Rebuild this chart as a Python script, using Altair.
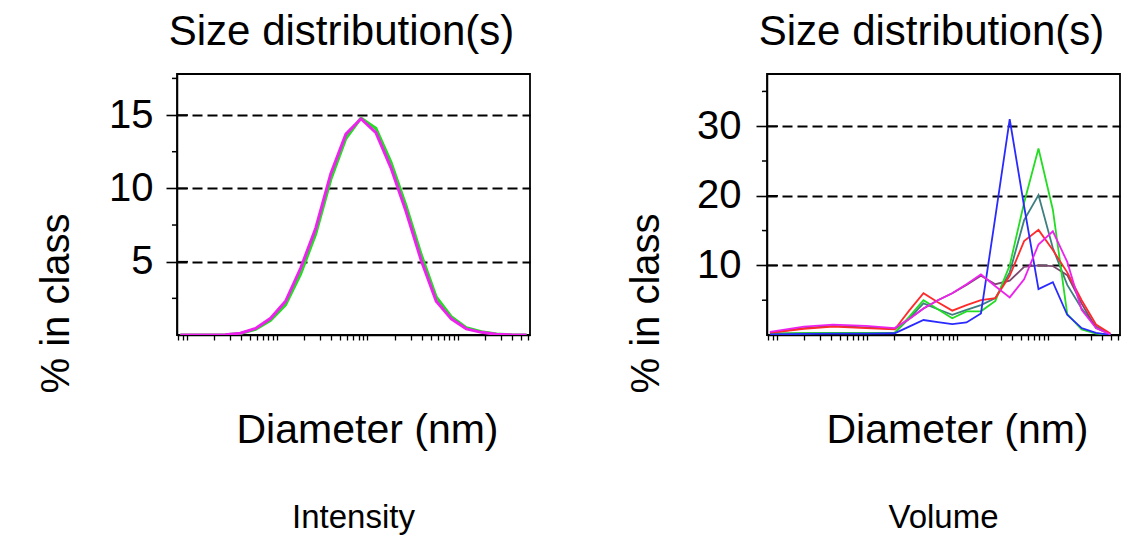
import altair as alt
import pandas as pd

FONT = "Liberation Sans"

# ---------------- Intensity panel ----------------
INT_D = [0.85, 1.24, 1.82, 2.68, 3.93, 5.77, 8.47, 12.4, 18.2, 26.8, 39.3, 57.7,
         84.7, 124, 182, 268, 393, 577, 847, 1242, 1824, 2677, 3929, 5768]
INT_GREEN = [0, 0, 0, 0.01, 0.1, 0.38, 1.0, 2.05, 4.15, 6.9, 10.6, 13.4,
             14.8, 14.1, 11.8, 8.8, 5.5, 2.6, 1.25, 0.5, 0.22, 0.07, 0.01, 0]
INT_MAGENTA = [0, 0, 0, 0.02, 0.12, 0.45, 1.14, 2.3, 4.55, 7.3, 11.0, 13.7,
               14.75, 13.8, 11.4, 8.4, 5.1, 2.3, 1.1, 0.42, 0.18, 0.05, 0.01, 0]

# ---------------- Volume panel ----------------
VOL_D = [0.84, 2.0, 4.2, 9.72, 20.2, 29.2, 42.1, 60.7, 87.6, 126, 182, 263,
         379, 547, 789, 1138, 1642, 2370, 3418, 4930]
VOL_TEAL = [0.2, 0.25, 0.3, 0.3, 0.3, 2.4, 4.55, 3.7, 2.9, 3.6, 4.3, 5.3,
            9.0, 16.5, 20.1, 12.5, 7.2, 3.8, 1.2, 0.1]
VOL_PURPLE = [0.35, 1.0, 1.3, 1.1, 0.9, 2.3, 3.8, 5.0, 6.0, 7.2, 8.5, 7.3,
              7.8, 9.8, 10.0, 9.9, 8.6, 4.5, 1.0, 0.1]
VOL_GREEN = [0.2, 0.25, 0.3, 0.3, 0.3, 2.6, 5.0, 3.7, 2.4, 3.4, 3.4, 4.9,
             10.0, 19.0, 26.8, 18.0, 3.0, 0.8, 0.2, 0]
VOL_RED = [0.3, 0.9, 1.2, 1.0, 0.8, 3.5, 6.0, 4.7, 3.5, 4.3, 5.0, 5.3,
           8.5, 13.5, 15.1, 12.2, 9.0, 5.0, 1.5, 0.2]
VOL_BLUE = [0.1, 0.15, 0.2, 0.2, 0.25, 1.2, 2.15, 1.85, 1.55, 1.8, 3.1, 17.0,
            31.0, 18.5, 6.6, 7.6, 2.9, 1.0, 0.3, 0]
VOL_MAGENTA = [0.45, 1.2, 1.5, 1.3, 1.0, 2.3, 3.8, 5.0, 6.0, 7.3, 8.7, 7.0,
               5.4, 8.0, 13.0, 14.9, 10.5, 3.6, 1.0, 0.1]

X_TICKS = [0.8, 0.9] + [m * 10 ** e for e in range(0, 4) for m in range(1, 10)
                        if m * 10 ** e <= 6000]

INT_MAJOR = [5, 10, 15]
INT_MINOR = [2.5, 7.5, 12.5, 17.5]
VOL_MAJOR = [10, 20, 30]
VOL_MINOR = [5, 15, 25, 35]

X_DOMAIN = [0.78, 6300]
W, H = 353, 261


def panel(d, series, ymax, major, minor, caption, line_w, label_pad):
    xscale = alt.Scale(type="log", domain=X_DOMAIN, nice=False)
    yscale = alt.Scale(domain=[0, ymax], nice=False, zero=True)
    xaxis = alt.Axis(values=X_TICKS, labels=False, tickSize=5, tickColor="black",
                     tickWidth=1.3, domainColor="black", domainWidth=1.5, grid=False,
                     title="Diameter (nm)", titleFont=FONT, titleFontSize=41,
                     titleFontWeight="normal", titleColor="black",
                     titleX=190, titleY=95, titleAlign="center", titleBaseline="middle")
    yaxis = alt.Axis(values=major, format="d", tickSize=11, tickColor="black",
                     tickWidth=1.6, labelFont=FONT, labelFontSize=40,
                     labelColor="black", labelPadding=label_pad,
                     domainColor="black", domainWidth=1.5,
                     grid=True, gridColor="black", gridDash=[10, 5], gridWidth=2,
                     gridOpacity=1,
                     title="% in class", titleFont=FONT, titleFontSize=40,
                     titleFontWeight="normal", titleColor="black",
                     titleX=-121, titleY=229, titleAlign="center",
                     titleBaseline="middle", titleAngle=-90)
    layers = []
    for color, vals in series:
        df = pd.DataFrame({"d": d, "v": vals})
        layers.append(
            alt.Chart(df).mark_line(color=color, strokeWidth=line_w, clip=True).encode(
                x=alt.X("d:Q", scale=xscale, axis=xaxis, title="Diameter (nm)"),
                y=alt.Y("v:Q", scale=yscale, axis=yaxis, title="% in class"),
            )
        )
    inner = alt.Chart(pd.DataFrame({"v": major})).mark_rule(
        color="black", strokeWidth=1.6).encode(
        y=alt.Y("v:Q", scale=yscale, axis=yaxis, title="% in class"),
        x=alt.value(0), x2=alt.value(11))
    minor_r = alt.Chart(pd.DataFrame({"v": minor})).mark_rule(
        color="black", strokeWidth=1.5).encode(
        y=alt.Y("v:Q", scale=yscale, axis=yaxis, title="% in class"),
        x=alt.value(-5), x2=alt.value(0))
    cap = alt.Chart(pd.DataFrame({"c": [caption]})).mark_text(
        font=FONT, fontSize=33, color="black", align="center", baseline="middle"
    ).encode(text="c:N", x=alt.value(W / 2), y=alt.value(444))
    return alt.layer(*layers, inner, minor_r, cap).properties(
        width=W, height=H,
        title=alt.TitleParams("Size distribution(s)", font=FONT, fontSize=42,
                              fontWeight="normal", color="black", anchor="middle",
                              dx=-12, offset=20),
    )


left = panel(INT_D, [("#22dd22", INT_GREEN), ("#ee22ee", INT_MAGENTA)],
             17.8, INT_MAJOR, INT_MINOR, "Intensity", 3, 13)
right = panel(VOL_D, [("#3d7f80", VOL_TEAL), ("#7a4a70", VOL_PURPLE),
                      ("#22dd22", VOL_GREEN), ("#ff2a2a", VOL_RED),
                      ("#2a2aff", VOL_BLUE), ("#ee22ee", VOL_MAGENTA)],
              37.5, VOL_MAJOR, VOL_MINOR, "Volume", 1.8, 15)

chart = alt.hconcat(left, right, spacing=94).properties(
    padding={"left": 27, "top": 2, "right": 5, "bottom": 5},
    background="white",
).configure_view(stroke="black", strokeWidth=1.8)

chart.save("out.html", embed_options={"renderer": "svg", "actions": False})
